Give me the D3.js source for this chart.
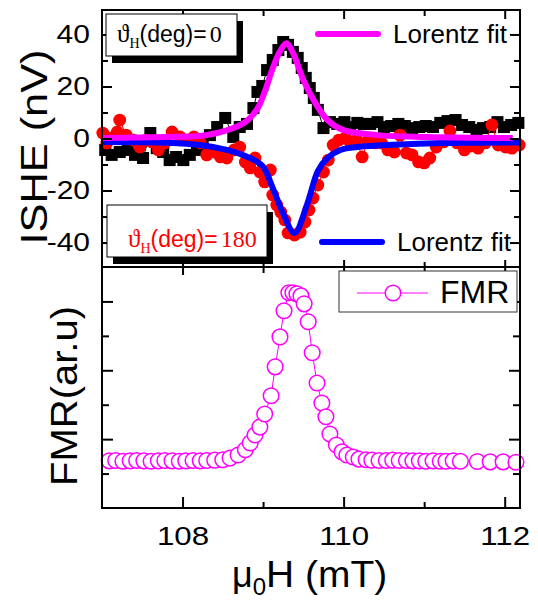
<!DOCTYPE html>
<html>
<head>
<meta charset="utf-8">
<script src="https://cdn.jsdelivr.net/npm/d3@7"></script>
<style>
body { margin: 0; background: #fff; }
svg { display: block; font-family: Arial, 'Liberation Sans', sans-serif; }
</style>
</head>
<body>
<svg id="chart" width="538" height="601"></svg>
<script>
// ---- data ----
var fieldDomain = [107, 112.19];
var isheDomain = [-49.4, 49.4];
var fmrDomain = [0, 7];

var fieldLabelTicks = [108, 110, 112];
var fieldMinorTicks = [109, 111];
var isheLabelTicks = [-40, -20, 0, 20, 40];
var isheMinorTicks = [-30, -10, 10, 30];
var fmrMajorTicks = [2, 4, 6];
var fmrMinorTicks = [1, 3, 5];

// theta_H = 0, black squares (mT, nV)
var ishe0 = [[107.04,-4.4],[107.12,-6.3],[107.22,-5.2],[107.32,-4.4],[107.41,-6.3],[107.51,-7.5],[107.60,2.1],[107.68,-3.7],[107.76,-5.2],[107.84,-8.3],[107.92,-7.1],[108.01,-8.3],[108.09,-6.3],[108.18,-4.4],[108.25,-2.5],[108.34,1.3],[108.43,4.4],[108.53,7.9],[108.63,0.6],[108.71,4.4],[108.80,5.6],[108.88,11.7],[108.93,17.9],[108.99,20.2],[109.05,26.3],[109.12,30.2],[109.19,34.0],[109.25,37.1],[109.31,36.0],[109.37,33.3],[109.43,31.0],[109.48,27.1],[109.53,23.3],[109.58,19.4],[109.63,15.6],[109.68,11.0],[109.75,4.0],[109.83,6.3],[109.92,5.6],[110.01,6.3],[110.08,4.4],[110.17,6.0],[110.25,5.6],[110.33,5.6],[110.42,6.3],[110.50,4.4],[110.59,4.8],[110.68,5.6],[110.76,4.8],[110.85,4.0],[110.94,4.4],[111.02,4.8],[111.11,4.4],[111.20,6.0],[111.29,6.7],[111.39,7.1],[111.47,5.2],[111.56,4.4],[111.65,3.3],[111.73,4.0],[111.82,4.4],[111.91,6.3],[111.99,4.4],[112.08,5.2],[112.17,6.0]];

// theta_H = 180, red circles (mT, nV)
var ishe180 = [[107.01,2.1],[107.06,-1.7],[107.12,0.2],[107.19,2.5],[107.22,7.1],[107.30,1.3],[107.39,-0.6],[107.47,-3.3],[107.55,-0.6],[107.62,-1.3],[107.70,-4.4],[107.78,-1.7],[107.87,2.5],[107.97,0.6],[108.06,-0.6],[108.14,0.6],[108.22,-1.7],[108.30,-6.3],[108.39,-5.2],[108.47,-7.1],[108.55,-7.5],[108.64,-4.4],[108.71,-3.3],[108.78,-9.0],[108.84,-11.3],[108.90,-7.5],[108.96,-12.9],[109.02,-16.7],[109.09,-12.1],[109.12,-21.7],[109.17,-25.6],[109.22,-28.3],[109.27,-31.3],[109.31,-36.3],[109.39,-37.1],[109.46,-36.0],[109.52,-32.1],[109.57,-27.5],[109.62,-22.9],[109.68,-17.9],[109.75,-12.9],[109.81,-8.3],[109.87,-2.5],[109.94,-0.6],[110.02,0.2],[110.08,-1.3],[110.16,-0.6],[110.23,-7.1],[110.30,-1.0],[110.39,-1.7],[110.47,-1.7],[110.55,-4.4],[110.63,-5.2],[110.70,1.3],[110.78,-5.6],[110.85,-6.3],[110.93,-9.0],[111.00,-9.4],[111.07,-7.5],[111.15,-3.3],[111.24,-1.3],[111.32,2.9],[111.41,-1.7],[111.50,-4.4],[111.58,-2.9],[111.67,-3.7],[111.76,-1.7],[111.84,5.2],[111.92,-2.5],[112.01,-3.3],[112.09,-3.7],[112.18,-2.5]];

// Lorentz fits, points
var fit0 = [[107.00,0.2],[107.81,0.6],[108.22,1.0],[108.43,2.1],[108.63,4.0],[108.80,6.8],[108.93,11.5],[109.02,17.9],[109.12,27.0],[109.21,33.5],[109.29,36.6],[109.37,33.0],[109.50,22.5],[109.65,13.6],[109.80,7.1],[109.99,3.3],[110.42,1.3],[111.04,0.6],[112.03,0.2],[112.10,0.2]];
var fit180 = [[107.00,-1.3],[107.81,-1.6],[108.22,-2.5],[108.55,-4.4],[108.80,-7.0],[108.99,-10.5],[109.12,-19.0],[109.24,-28.2],[109.39,-36.3],[109.55,-25.0],[109.68,-12.5],[109.80,-7.5],[109.96,-4.4],[110.20,-3.2],[110.61,-2.4],[111.24,-1.7],[112.19,-1.5]];

// FMR signal (mT, arb. units)
var fmr = [[107.09,1.37],[107.17,1.38],[107.26,1.36],[107.35,1.37],[107.43,1.38],[107.52,1.37],[107.61,1.36],[107.70,1.37],[107.78,1.38],[107.87,1.37],[107.96,1.36],[108.04,1.37],[108.13,1.38],[108.22,1.37],[108.30,1.38],[108.40,1.39],[108.50,1.40],[108.59,1.45],[108.69,1.54],[108.78,1.69],[108.84,1.89],[108.90,2.12],[108.96,2.35],[109.02,2.73],[109.10,3.26],[109.15,4.10],[109.21,4.97],[109.26,5.73],[109.32,6.25],[109.37,6.25],[109.42,6.22],[109.47,6.16],[109.51,5.93],[109.56,5.41],[109.61,4.51],[109.67,3.63],[109.73,3.05],[109.78,2.65],[109.83,2.15],[109.91,1.83],[109.98,1.63],[110.04,1.54],[110.12,1.48],[110.19,1.42],[110.28,1.40],[110.35,1.39],[110.44,1.38],[110.53,1.38],[110.61,1.39],[110.69,1.38],[110.78,1.38],[110.86,1.37],[110.94,1.37],[111.02,1.36],[111.11,1.37],[111.20,1.36],[111.27,1.36],[111.36,1.37],[111.45,1.36],[111.66,1.35],[111.82,1.34],[111.98,1.34],[112.14,1.33]];

// ---- layout ----
var plotLeft = 102, plotRight = 520, plotTop = 10, plotMid = 267, plotBottom = 508;

var svg = d3.select('#chart');

var x = d3.scaleLinear().domain(fieldDomain).range([plotLeft, plotRight]);
var yTop = d3.scaleLinear().domain(isheDomain).range([plotMid, plotTop]);
var yBot = d3.scaleLinear().domain(fmrDomain).range([plotBottom, plotMid]);

// widen text a bit like the original export
function stretch(sel, k) {
	sel.each(function() {
		var w = this.getComputedTextLength();
		d3.select(this).attr('textLength', w * k).attr('lengthAdjust', 'spacingAndGlyphs');
	});
}

function cleanAxis(g) {
	g.select('.domain').remove();
	g.selectAll('line').attr('stroke', '#000').attr('stroke-width', 2);
	g.attr('font-family', 'Arial, "Liberation Sans", sans-serif').attr('font-size', 25);
	g.selectAll('text').attr('fill', '#000');
}

function edgeTicks(axisFn, scale, values, size, tx, ty) {
	svg.append('g')
		.attr('transform', 'translate(' + tx + ',' + ty + ')')
		.call(axisFn(scale).tickValues(values).tickSizeInner(-size).tickSizeOuter(0).tickFormat(''))
		.call(cleanAxis);
}

// ---- top panel: ISHE ----
var lineTop = d3.line()
	.x(function(d) { return x(d[0]); })
	.y(function(d) { return yTop(d[1]); });

svg.append('path')
	.datum(ishe0)
	.attr('d', lineTop)
	.attr('fill', 'none')
	.attr('stroke', '#000')
	.attr('stroke-width', 1);

svg.append('g').selectAll('rect')
	.data(ishe0)
	.enter().append('rect')
	.attr('x', function(d) { return x(d[0]) - 6; })
	.attr('y', function(d) { return yTop(d[1]) - 6; })
	.attr('width', 12)
	.attr('height', 12)
	.attr('fill', '#000');

svg.append('path')
	.datum(ishe180)
	.attr('d', lineTop)
	.attr('fill', 'none')
	.attr('stroke', '#ff0000')
	.attr('stroke-width', 1);

svg.append('g').selectAll('circle')
	.data(ishe180)
	.enter().append('circle')
	.attr('cx', function(d) { return x(d[0]); })
	.attr('cy', function(d) { return yTop(d[1]); })
	.attr('r', 6.4)
	.attr('fill', '#ff0000');

var fitLine = d3.line()
	.curve(d3.curveCatmullRom)
	.x(function(d) { return x(d[0]); })
	.y(function(d) { return yTop(d[1]); });

svg.append('path')
	.datum(fit180)
	.attr('d', fitLine)
	.attr('fill', 'none')
	.attr('stroke', '#0000ff')
	.attr('stroke-width', 6)
	.attr('stroke-linejoin', 'round');

svg.append('path')
	.datum(fit0)
	.attr('d', fitLine)
	.attr('fill', 'none')
	.attr('stroke', '#ff00ff')
	.attr('stroke-width', 6)
	.attr('stroke-linejoin', 'round');

// ---- bottom panel: FMR ----
var lineBot = d3.line()
	.x(function(d) { return x(d[0]); })
	.y(function(d) { return yBot(d[1]); });

svg.append('path')
	.datum(fmr)
	.attr('d', lineBot)
	.attr('fill', 'none')
	.attr('stroke', '#ff00ff')
	.attr('stroke-width', 1);

svg.append('g').selectAll('circle')
	.data(fmr)
	.enter().append('circle')
	.attr('cx', function(d) { return x(d[0]); })
	.attr('cy', function(d) { return yBot(d[1]); })
	.attr('r', 7.8)
	.attr('fill', '#fff')
	.attr('stroke', '#ff00ff')
	.attr('stroke-width', 1.5);

// ---- frames and ticks ----
svg.append('rect')
	.attr('x', plotLeft).attr('y', plotTop)
	.attr('width', plotRight - plotLeft).attr('height', plotMid - plotTop)
	.attr('fill', 'none').attr('stroke', '#000').attr('stroke-width', 2);

svg.append('rect')
	.attr('x', plotLeft).attr('y', plotMid)
	.attr('width', plotRight - plotLeft).attr('height', plotBottom - plotMid)
	.attr('fill', 'none').attr('stroke', '#000').attr('stroke-width', 2);

// top panel left axis with labels
var gLeft = svg.append('g')
	.attr('transform', 'translate(' + plotLeft + ',0)')
	.call(d3.axisLeft(yTop).tickValues(isheLabelTicks).tickSizeInner(-10).tickSizeOuter(0).tickPadding(12)
		.tickFormat(function(d) { return String(d); }))
	.call(cleanAxis);
stretch(gLeft.selectAll('text'), 1.2);

edgeTicks(d3.axisLeft, yTop, isheMinorTicks, 6, plotLeft, 0);
edgeTicks(d3.axisRight, yTop, isheLabelTicks, 10, plotRight, 0);
edgeTicks(d3.axisRight, yTop, isheMinorTicks, 6, plotRight, 0);
edgeTicks(d3.axisTop, x, fieldLabelTicks, 9, 0, plotTop);
edgeTicks(d3.axisTop, x, fieldMinorTicks, 6, 0, plotTop);
edgeTicks(d3.axisBottom, x, fieldLabelTicks, 7, 0, plotMid);
edgeTicks(d3.axisBottom, x, fieldMinorTicks, 5, 0, plotMid);

// bottom panel
edgeTicks(d3.axisTop, x, fieldLabelTicks, 8, 0, plotMid);
edgeTicks(d3.axisTop, x, fieldMinorTicks, 6, 0, plotMid);
edgeTicks(d3.axisLeft, yBot, fmrMajorTicks, 11, plotLeft, 0);
edgeTicks(d3.axisLeft, yBot, fmrMinorTicks, 7, plotLeft, 0);
edgeTicks(d3.axisRight, yBot, fmrMajorTicks, 11, plotRight, 0);
edgeTicks(d3.axisRight, yBot, fmrMinorTicks, 7, plotRight, 0);
edgeTicks(d3.axisBottom, x, fieldMinorTicks, 6, 0, plotBottom);

var gBottom = svg.append('g')
	.attr('transform', 'translate(0,' + plotBottom + ')')
	.call(d3.axisBottom(x).tickValues(fieldLabelTicks).tickSizeInner(-11).tickSizeOuter(0).tickPadding(19)
		.tickFormat(function(d) { return String(d); }))
	.call(cleanAxis);
stretch(gBottom.selectAll('text'), 1.25);

// ---- axis titles ----
svg.append('text')
	.attr('transform', 'translate(47,147) rotate(-90)')
	.attr('text-anchor', 'middle')
	.attr('font-size', 36)
	.attr('textLength', 195)
	.attr('lengthAdjust', 'spacingAndGlyphs')
	.text('ISHE (nV)');

svg.append('text')
	.attr('transform', 'translate(77,396) rotate(-90)')
	.attr('text-anchor', 'middle')
	.attr('font-size', 37)
	.attr('textLength', 180)
	.attr('lengthAdjust', 'spacingAndGlyphs')
	.text('FMR(ar.u)');

var xTitle = svg.append('text')
	.attr('x', 232)
	.attr('y', 587)
	.attr('font-size', 36);
xTitle.append('tspan').text('μ');
xTitle.append('tspan').attr('font-size', 24).attr('dy', 8).text('0');
xTitle.append('tspan').attr('dy', -8).attr('textLength', 121).attr('lengthAdjust', 'spacingAndGlyphs').text('H (mT)');

// ---- legends ----
function angleBox(bx, by, bw, bh, color, value, tx, ty) {
	svg.append('rect')
		.attr('x', bx + 6).attr('y', by + 7)
		.attr('width', bw).attr('height', Math.min(bh, plotMid - by - 9))
		.attr('fill', '#000');
	svg.append('rect')
		.attr('x', bx).attr('y', by)
		.attr('width', bw).attr('height', bh)
		.attr('fill', '#fff').attr('stroke', '#000').attr('stroke-width', 1);
	var t = svg.append('text')
		.attr('x', tx).attr('y', ty)
		.attr('fill', color);
	t.append('tspan').attr('font-family', '"Liberation Serif", "Times New Roman", serif').attr('font-size', 25).text('ϑ');
	t.append('tspan').attr('font-family', '"Liberation Serif", "Times New Roman", serif').attr('font-size', 14).attr('dy', 6).text('H');
	t.append('tspan').attr('font-size', 23).attr('dy', -6).text('(deg)=');
	t.append('tspan').attr('font-family', '"Liberation Serif", "Times New Roman", serif').attr('font-size', 24).attr('dx', 3).text(value);
}

angleBox(106, 14, 131, 42, '#000', '0', 117, 42);
angleBox(107, 205, 160, 52, '#ff0000', '180', 128, 247);

function fitLegend(x1, x2, ly, color, tx, ty) {
	svg.append('line')
		.attr('x1', x1).attr('x2', x2)
		.attr('y1', ly).attr('y2', ly)
		.attr('stroke', color).attr('stroke-width', 6).attr('stroke-linecap', 'round');
	svg.append('text')
		.attr('x', tx).attr('y', ty)
		.attr('font-size', 26)
		.attr('textLength', 114)
		.attr('lengthAdjust', 'spacingAndGlyphs')
		.text('Lorentz fit');
}

fitLegend(318, 378, 34, '#ff00ff', 393, 43);
fitLegend(322, 382, 242, '#0000ff', 397, 251);

svg.append('rect')
	.attr('x', 339).attr('y', 271)
	.attr('width', 178).attr('height', 41)
	.attr('fill', '#fff').attr('stroke', '#333').attr('stroke-width', 1);
svg.append('line')
	.attr('x1', 357).attr('x2', 428)
	.attr('y1', 293).attr('y2', 293)
	.attr('stroke', '#ff00ff').attr('stroke-width', 1);
svg.append('circle')
	.attr('cx', 393).attr('cy', 293).attr('r', 7.8)
	.attr('fill', '#fff').attr('stroke', '#ff00ff').attr('stroke-width', 1.5);
svg.append('text')
	.attr('x', 440).attr('y', 303)
	.attr('font-size', 32)
	.text('FMR');
</script>
</body>
</html>
